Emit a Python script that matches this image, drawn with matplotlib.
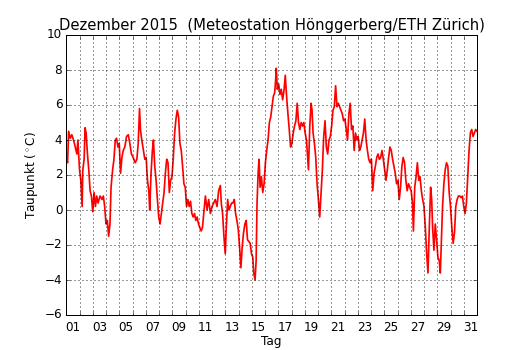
import numpy as np
import matplotlib
matplotlib.use('Agg')
import matplotlib.pyplot as plt

# Taupunkt Dezember 2015, Zeit in Tagen ab 1. Dez 00:00, Werte in Grad C
t = [0.0, 0.1, 0.18, 0.3, 0.42, 0.55, 0.68, 0.8, 0.88, 1.0, 1.1, 1.2, 1.25, 1.35, 1.42,
     1.5, 1.6, 1.7, 1.8, 1.9, 2.0, 2.1, 2.2, 2.3, 2.4, 2.55, 2.7, 2.8, 2.9, 3.0,
     3.1, 3.2, 3.3, 3.38, 3.5, 3.6, 3.7, 3.8, 3.9, 4.0, 4.1, 4.2, 4.3, 4.42, 4.55,
     4.68, 4.8, 4.92, 5.05, 5.2, 5.33, 5.43, 5.53, 5.6, 5.7, 5.83, 5.93, 6.03, 6.13, 6.23,
     6.3, 6.4, 6.5, 6.58, 6.68, 6.78, 6.88, 6.98, 7.08, 7.18, 7.28, 7.38, 7.48, 7.58, 7.68,
     7.78, 7.88, 7.98, 8.08, 8.18, 8.28, 8.38, 8.48, 8.58, 8.68, 8.78, 8.88, 8.98, 9.08, 9.18,
     9.28, 9.38, 9.48, 9.58, 9.68, 9.78, 9.88, 9.98, 10.08, 10.18, 10.28, 10.38, 10.5, 10.63, 10.75,
     10.88, 11.0, 11.13, 11.25, 11.38, 11.5, 11.63, 11.7, 11.8, 11.9, 12.0, 12.08, 12.18, 12.28, 12.38,
     12.48, 12.58, 12.68, 12.78, 12.88, 12.98, 13.08, 13.18, 13.28, 13.38, 13.48, 13.58, 13.68, 13.78, 13.88,
     13.98, 14.08, 14.15, 14.25, 14.33, 14.4, 14.48, 14.55, 14.63, 14.73, 14.83, 14.93, 15.03, 15.13, 15.23,
     15.33, 15.43, 15.53, 15.63, 15.73, 15.8, 15.85, 15.93, 16.03, 16.13, 16.23, 16.33, 16.43, 16.53, 16.63,
     16.73, 16.83, 16.93, 17.03, 17.13, 17.23, 17.33, 17.43, 17.53, 17.63, 17.73, 17.83, 17.93, 18.03, 18.13,
     18.23, 18.28, 18.38, 18.48, 18.55, 18.63, 18.73, 18.83, 18.93, 19.03, 19.13, 19.23, 19.33, 19.43, 19.53,
     19.63, 19.73, 19.83, 19.93, 20.03, 20.13, 20.23, 20.33, 20.43, 20.53, 20.63, 20.73, 20.83, 20.93, 21.03,
     21.13, 21.23, 21.33, 21.43, 21.53, 21.63, 21.73, 21.83, 21.93, 22.03, 22.13, 22.23, 22.33, 22.43, 22.53,
     22.63, 22.73, 22.83, 22.93, 23.03, 23.13, 23.23, 23.33, 23.43, 23.53, 23.63, 23.73, 23.83, 23.93, 24.03,
     24.13, 24.23, 24.33, 24.43, 24.53, 24.63, 24.73, 24.83, 24.93, 25.03, 25.13, 25.23, 25.33, 25.43, 25.53,
     25.63, 25.73, 25.83, 25.93, 26.03, 26.13, 26.2, 26.3, 26.4, 26.5, 26.6, 26.7, 26.8, 26.9, 27.0,
     27.1, 27.2, 27.3, 27.4, 27.5, 27.58, 27.65, 27.75, 27.85, 27.95, 28.05, 28.15, 28.23, 28.3, 28.4,
     28.5, 28.6, 28.7, 28.8, 28.9, 29.0, 29.1, 29.2, 29.3, 29.4, 29.5, 29.6, 29.7, 29.8, 29.9,
     30.0, 30.1, 30.2, 30.3, 30.4, 30.5, 30.6, 30.7, 30.8, 30.9, 31.0]
td = [3.0, 2.7, 4.5, 4.1, 4.3, 4.0, 3.6, 3.2, 4.0, 2.3, 1.7, 0.2, 2.3, 2.9, 4.7,
      4.4, 3.2, 2.3, 1.1, 0.8, -0.1, 1.0, 0.2, 0.8, 0.4, 0.8, 0.6, 0.8, 0.2, -0.8,
      -0.6, -1.5, -0.8, 1.3, 2.3, 2.9, 4.0, 4.1, 3.6, 3.8, 2.1, 3.0, 3.4, 3.6, 4.2,
      4.3, 3.8, 3.2, 3.0, 2.7, 2.9, 3.8, 5.8, 4.6, 4.0, 3.4, 2.9, 3.0, 1.7, 1.1,
      0.0, 2.1, 3.4, 4.0, 2.5, 1.7, 0.6, -0.4, -0.8, -0.2, 0.4, 1.0, 2.1, 2.9, 2.7,
      1.0, 1.7, 1.9, 3.0, 4.4, 5.2, 5.7, 5.3, 3.8, 3.4, 2.5, 1.5, 1.3, 0.2, 0.6,
      0.2, 0.5, -0.2, -0.4, -0.2, -0.6, -0.4, -0.8, -1.0, -1.2, -1.0, -0.2, 0.8, 0.0, 0.6,
      -0.2, 0.2, 0.4, 0.6, 0.2, 1.1, 1.4, 0.4, -0.2, -1.5, -2.5, -1.0, 0.6, 0.0, 0.2,
      0.4, 0.4, 0.6, -0.2, -0.6, -1.1, -2.1, -3.3, -2.1, -1.3, -0.8, -0.6, -1.7, -1.8, -1.9,
      -2.5, -2.7, -3.6, -4.0, -2.9, 0.4, 2.1, 2.9, 1.3, 1.9, 1.0, 1.5, 2.7, 3.4, 4.0,
      5.0, 5.3, 5.9, 6.5, 6.7, 7.4, 8.1, 6.9, 7.2, 6.6, 6.9, 6.3, 6.8, 7.7, 6.5,
      5.5, 4.6, 3.6, 3.8, 4.4, 4.8, 5.1, 6.1, 5.0, 4.6, 5.0, 4.8, 5.0, 4.4, 4.0,
      2.9, 2.3, 4.8, 6.1, 5.7, 4.4, 3.8, 3.0, 1.5, 0.6, -0.4, 1.0, 2.3, 4.2, 5.1,
      3.6, 3.2, 4.0, 4.2, 4.8, 5.7, 5.9, 7.1, 5.9, 6.1, 5.9, 5.7, 5.5, 5.1, 5.2,
      4.6, 4.0, 5.5, 6.1, 4.6, 4.8, 3.4, 4.4, 4.0, 4.2, 3.4, 3.6, 4.0, 4.4, 5.2,
      4.0, 3.4, 2.9, 2.7, 2.9, 1.1, 2.1, 2.5, 3.0, 3.2, 2.9, 3.0, 3.4, 2.9, 2.3,
      1.7, 2.3, 3.0, 3.6, 3.4, 2.9, 2.5, 2.1, 1.5, 1.7, 0.6, 1.3, 2.5, 3.0, 2.7,
      1.7, 1.1, 1.5, 1.3, 1.1, 0.4, -1.2, 1.3, 1.9, 2.7, 1.7, 1.9, 1.1, 0.6, 0.2,
      -1.0, -2.5, -3.6, -1.0, 1.3, 0.6, -1.0, -2.3, -0.8, -1.7, -2.7, -2.9, -3.6, -2.1, 0.2,
      1.5, 2.3, 2.7, 2.5, 1.0, 0.2, -1.0, -1.9, -1.3, 0.2, 0.6, 0.8, 0.8, 0.7, 0.8,
      0.2, -0.2, 0.4, 1.9, 3.4, 4.4, 4.6, 4.2, 4.4, 4.6, 4.5]

day_labels = ['%02d' % d for d in range(1, 32, 2)]

plt.style.use('classic')
fig = plt.figure(figsize=(530 / 72.0, 350 / 72.0), dpi=72, facecolor='white')
ax = fig.add_axes([0.125, 0.1, 0.775, 0.8])

ax.plot(t, td, 'r-', lw=1.7)

ax.set_xlim(0, 31)
ax.set_ylim(-6, 10)
ax.set_yticks(np.arange(-6, 11, 2))

# Striche an den Tagesgrenzen, Beschriftung in der Tagesmitte
ax.set_xticks(np.arange(0, 32))
ax.set_xticklabels([])
ax.set_xticks(np.arange(0.5, 31, 2), minor=True)
ax.set_xticklabels(day_labels, minor=True)
ax.tick_params(axis='x', which='minor', length=0, pad=6)
ax.tick_params(which='major', direction='in', top=True, right=True)

ax.grid(True, which='major', color='k', linestyle=':', linewidth=0.8)

ax.set_title('Dezember 2015  (Meteostation Hönggerberg/ETH Zürich)', fontsize=14.8)
ax.set_xlabel('Tag', fontsize=12, labelpad=1)
ax.set_ylabel('Taupunkt ($^\\circ$C)', fontsize=12)

fig.savefig('out.png', dpi=72, facecolor='white')
